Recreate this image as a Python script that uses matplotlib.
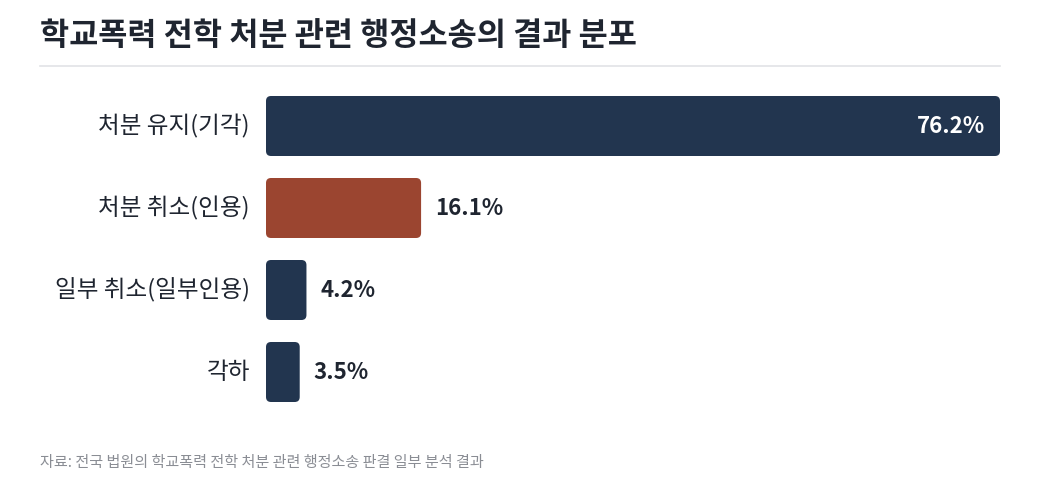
import matplotlib.pyplot as plt
from matplotlib.patches import FancyBboxPatch

plt.rcParams['font.family'] = ['Noto Sans CJK KR', 'DejaVu Sans']

categories = ['처분 유지(기각)', '처분 취소(인용)', '일부 취소(일부인용)', '각하']
values = [76.2, 16.1, 4.2, 3.5]
value_labels = ['76.2%', '16.1%', '4.2%', '3.5%']
colors = ['#22354f', '#9b4530', '#22354f', '#22354f']

title = '학교폭력 전학 처분 관련 행정소송의 결과 분포'
source = '자료: 전국 법원의 학교폭력 전학 처분 관련 행정소송 판결 일부 분석 결과'

W, H = 1040, 495
fig = plt.figure(figsize=(W / 100, H / 100), dpi=100)
fig.patch.set_facecolor('white')

# axes placed in pixel terms: bars run x 266..1000, y 96..402
bar_h = 60 / 82
ax = fig.add_axes([266 / W, 1 - 402 / H, (1000 - 266) / W, (402 - 96) / H])
ax.set_xlim(0, max(values))
ax.set_ylim(len(values) - 1 + bar_h / 2, -bar_h / 2)
ax.axis('off')

bars = ax.barh(range(len(values)), values, height=bar_h, color=colors)

# swap plain bars for rounded ones
xpp = max(values) / (1000 - 266)
ypp = (len(values) - 1 + bar_h) / (402 - 96)
r = 5
for b in bars:
    x, y, w, h = b.get_x(), b.get_y(), b.get_width(), b.get_height()
    p = FancyBboxPatch((x, y), w, h,
                       boxstyle=f'round,pad=0,rounding_size={r * xpp}',
                       mutation_aspect=ypp / xpp,
                       facecolor=b.get_facecolor(), edgecolor='none')
    ax.add_patch(p)
    b.remove()

for i, (v, lab) in enumerate(zip(values, value_labels)):
    if i == 0:
        ax.text(v - 15 * xpp, i, lab, ha='right', va='center', color='white',
                fontsize=16, fontweight='bold')
    else:
        ax.text(v + 14 * xpp, i, lab, ha='left', va='center', color='#1f2530',
                fontsize=16, fontweight='bold')
    ax.text(-16 * xpp, i, categories[i], ha='right', va='center', color='#1f2530',
            fontsize=17)

fig.text(40 / W, 1 - 36 / H, title, ha='left', va='center', fontsize=22.8,
         fontweight='bold', color='#1f2530')
fig.add_artist(plt.Line2D([40 / W, 1000 / W], [1 - 66 / H, 1 - 66 / H],
                          color='#e2e3e6', linewidth=1.2))
fig.text(40 / W, 1 - 462 / H, source, ha='left', va='center', fontsize=10.9,
         color='#8a8d94')

fig.savefig('out.png', dpi=100, facecolor='white')
